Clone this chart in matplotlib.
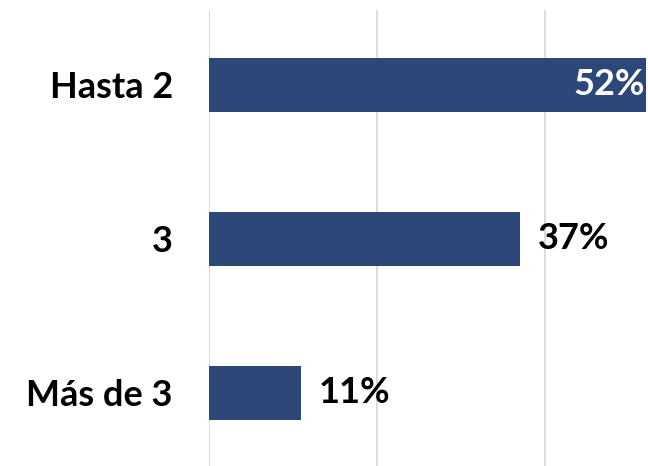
import matplotlib
matplotlib.use("Agg")
import matplotlib.pyplot as plt

# datos de la gráfica
categorias = ["Hasta 2", "3", "Más de 3"]
porcentajes = [52, 37, 11]
color_barra = "#2C4878"

plt.rcParams['font.family'] = ['Lato', 'DejaVu Sans']

fig = plt.figure(figsize=(6.48, 4.66), dpi=100)
ax = fig.add_axes([209 / 648, 0, 1 - 209 / 648, 456 / 466])

ax.barh(range(len(categorias)), porcentajes, height=0.35, color=color_barra)

ax.set_xlim(0, 52.26)
ax.set_ylim(2.475, -0.487)
ax.set_xticks([0, 20, 40])
ax.xaxis.grid(True, color="#D9D9D9", linewidth=1.3)
ax.set_axisbelow(True)
ax.tick_params(length=0, labelbottom=False)
for s in ax.spines.values():
    s.set_visible(False)

ax.set_yticks(range(len(categorias)))
ax.set_yticklabels(categorias, fontsize=26, fontweight="bold")
ax.tick_params(axis="y", pad=26)

# etiquetas de valor
for i, v in enumerate(porcentajes):
    if v > 45:
        ax.text(v - 0.1, i, f"{v}%", ha="right", va="center", color="white",
                fontsize=26, fontweight="bold")
    else:
        ax.text(v + 2.1, i, f"{v}%", ha="left", va="center", color="black",
                fontsize=26, fontweight="bold")

fig.savefig("out.png", dpi=100)
